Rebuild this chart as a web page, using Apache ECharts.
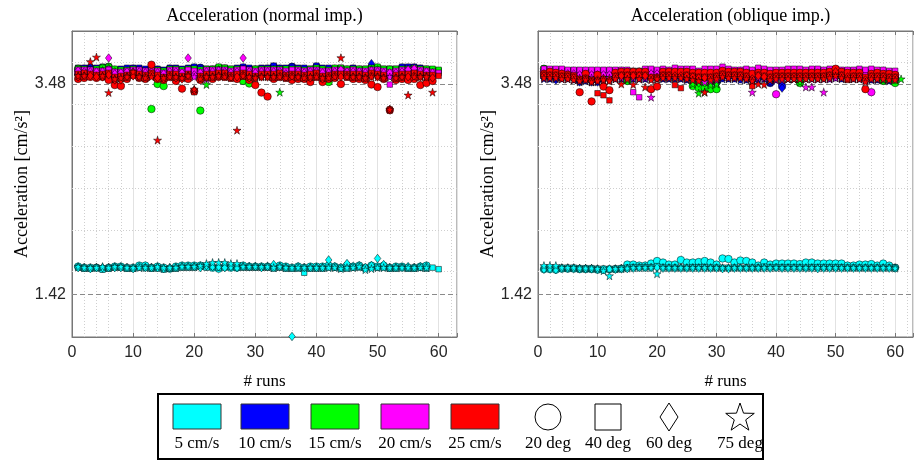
<!DOCTYPE html>
<html><head><meta charset="utf-8">
<script src="https://cdn.jsdelivr.net/npm/echarts@6/dist/echarts.min.js"></script>
<style>html,body{margin:0;padding:0;background:#fff}#c{width:916px;height:461px}</style>
</head><body><div id="c"></div><script>
// ---------- DATA (run index = position + 1) ----------
// Left panel: normal impact
const N5_20 = [1.69,1.68,1.68,1.68,1.67,1.68,1.69,1.69,1.68,1.68,1.70,1.70,1.68,1.69,1.68,1.67,1.69,1.70,1.70,1.70,1.70,1.69,1.68,1.67,1.69,1.68,1.68,1.70,1.69,1.69,1.69,1.69,1.69,1.70,1.69,1.68,1.69,1.68,1.69,1.69,1.69,1.70,1.69,1.68,1.70,1.69,1.70,1.68,1.70,1.69,1.70,1.68,1.69,1.69,1.68,1.68,1.69,1.70,null,null];
const N5_40 = [1.68,1.67,1.67,1.68,1.66,1.67,1.68,1.68,1.67,1.67,1.68,1.68,1.67,1.67,1.66,1.67,1.67,1.68,1.68,1.68,1.69,1.68,1.69,1.68,1.68,1.69,1.68,1.68,1.68,1.68,1.68,1.68,1.67,1.68,1.67,1.67,1.67,1.63,1.67,1.67,1.67,1.68,1.68,1.67,1.67,1.68,1.68,1.67,1.68,1.68,1.68,1.67,1.67,1.68,1.67,1.67,1.68,1.67,1.68,1.665];
const N5_60 = [1.68,1.68,1.67,1.68,1.68,1.68,1.68,1.68,1.68,1.67,1.69,1.68,1.68,1.68,1.67,1.68,1.68,1.69,1.69,1.69,1.68,1.70,1.69,1.69,1.68,1.69,1.68,1.69,1.69,1.69,1.68,1.69,1.71,1.69,1.68,1.005,1.69,1.68,1.68,1.68,1.68,1.755,1.69,1.68,1.72,1.69,1.70,1.68,1.70,1.77,1.71,1.68,1.68,1.68,1.69,1.68,1.69,1.69,null,null];
const N5_75 = [1.69,1.68,1.68,1.68,1.69,1.68,1.69,1.69,1.68,1.68,1.68,1.68,1.68,1.69,1.68,1.68,1.68,1.69,1.69,1.69,1.70,1.72,1.73,1.73,1.73,1.72,1.72,1.69,1.69,1.69,1.69,1.69,1.68,1.69,1.68,1.68,1.68,1.68,1.68,1.68,1.68,1.68,1.68,1.67,1.68,1.68,1.69,1.66,1.67,1.68,1.68,1.68,1.68,1.68,1.68,1.68,1.68,1.68,null,null];
const N10_20 = [3.62,3.63,3.64,3.62,3.61,3.62,3.58,3.60,3.62,3.63,3.62,3.60,3.62,3.62,3.59,3.63,3.62,3.61,3.62,3.64,3.64,3.60,3.62,3.62,3.63,3.61,3.62,3.64,3.62,3.62,3.62,3.63,3.65,3.63,3.61,3.65,3.62,3.62,3.61,3.65,3.62,3.61,3.63,3.62,3.62,3.63,3.62,3.61,3.64,3.62,3.61,3.62,3.61,3.64,3.64,3.64,3.63,3.62,3.61,null];
const N10_40 = [3.64,3.64,3.63,3.64,3.65,3.63,3.62,3.63,3.64,3.64,3.64,3.63,3.64,3.63,3.62,3.64,3.64,3.63,3.64,3.65,3.64,3.63,3.63,3.64,3.64,3.63,3.64,3.65,3.64,3.63,3.64,3.64,3.66,3.64,3.64,3.65,3.64,3.64,3.63,3.66,3.64,3.64,3.63,3.64,3.63,3.64,3.63,3.63,3.65,3.63,3.63,3.63,3.63,3.65,3.65,3.65,3.64,3.63,3.62,3.61];
const N10_60 = [3.60,3.61,3.59,3.59,3.60,3.61,3.56,3.58,3.60,3.61,3.60,3.59,3.59,3.57,3.57,3.61,3.59,3.59,3.60,3.61,3.61,3.58,3.60,3.61,3.61,3.59,3.60,3.62,3.60,3.59,3.60,3.61,3.62,3.60,3.59,3.61,3.60,3.60,3.59,3.62,3.60,3.59,3.61,3.60,3.59,3.60,3.60,3.59,3.68,3.60,3.59,3.60,3.59,3.61,3.62,3.62,3.60,3.60,3.59,null];
const N10_75 = [3.57,3.58,3.58,3.57,3.57,3.58,3.54,3.55,3.57,3.59,3.57,3.57,3.57,3.55,3.55,3.58,3.57,3.56,3.57,3.59,3.58,3.56,3.57,3.58,3.59,3.57,3.57,3.58,3.57,3.57,3.57,3.58,3.59,3.58,3.57,3.58,3.57,3.57,3.56,3.59,3.57,3.56,3.58,3.57,3.57,3.57,3.57,3.56,3.60,3.57,3.56,3.57,3.57,3.58,3.58,3.59,3.57,3.57,3.56,null];
const N15_20 = [3.63,3.60,3.59,3.61,3.64,3.65,3.62,3.60,3.59,3.61,3.58,3.59,3.235,3.48,3.46,3.60,3.60,3.59,3.61,3.60,3.22,3.60,3.60,3.64,3.62,3.60,3.60,3.51,3.485,3.62,3.61,3.60,3.60,3.60,3.59,3.60,3.60,3.59,3.61,3.62,3.60,3.50,3.62,3.62,3.60,3.60,3.60,3.60,3.62,3.64,3.60,3.59,3.60,3.61,3.61,3.62,3.60,3.61,3.60,null];
const N15_40 = [3.63,3.63,3.62,3.63,3.64,3.65,3.63,3.62,3.62,3.63,3.62,3.61,3.63,3.62,3.61,3.63,3.63,3.62,3.63,3.63,3.62,3.63,3.63,3.65,3.64,3.63,3.63,3.63,3.62,3.63,3.63,3.63,3.63,3.63,3.63,3.63,3.63,3.62,3.63,3.64,3.63,3.62,3.64,3.64,3.63,3.63,3.63,3.63,3.64,3.65,3.63,3.63,3.63,3.63,3.63,3.64,3.63,3.63,3.63,3.62];
const N15_60 = [3.59,3.60,3.58,3.59,3.61,3.63,3.60,3.58,3.58,3.59,3.57,3.57,3.58,3.58,3.56,3.59,3.59,3.57,3.59,3.58,3.58,3.58,3.59,3.62,3.60,3.58,3.59,3.59,3.57,3.59,3.59,3.59,3.59,3.59,3.58,3.59,3.59,3.58,3.59,3.60,3.58,3.57,3.60,3.60,3.59,3.59,3.59,3.58,3.62,3.62,3.58,3.58,3.58,3.59,3.59,3.60,3.59,3.59,3.58,null];
const N15_75 = [3.56,3.56,3.57,3.56,3.58,3.58,3.55,3.54,3.56,3.57,3.55,3.55,3.56,3.55,3.54,3.56,3.56,3.55,3.56,3.56,3.56,3.475,3.56,3.58,3.57,3.56,3.56,3.56,3.55,3.56,3.56,3.56,3.56,3.40,3.56,3.56,3.56,3.55,3.56,3.57,3.55,3.55,3.57,3.57,3.56,3.56,3.56,3.55,3.59,3.58,3.55,3.55,3.55,3.56,3.56,3.57,3.56,3.56,3.55,null];
const N20_20 = [3.60,3.61,3.60,3.60,3.60,3.62,3.58,3.58,3.60,3.61,3.60,3.59,3.60,3.60,3.58,3.60,3.60,3.58,3.61,3.58,3.58,3.60,3.60,3.61,3.61,3.59,3.60,3.61,3.60,3.59,3.60,3.60,3.60,3.61,3.59,3.60,3.60,3.59,3.60,3.61,3.59,3.59,3.60,3.61,3.60,3.60,3.60,3.59,3.61,3.61,3.59,3.59,3.59,3.60,3.60,3.62,3.60,3.60,3.59,null];
const N20_40 = [3.62,3.62,3.62,3.61,3.61,3.62,3.60,3.60,3.61,3.62,3.62,3.61,3.62,3.61,3.59,3.62,3.62,3.60,3.62,3.61,3.60,3.62,3.62,3.62,3.62,3.61,3.62,3.63,3.62,3.61,3.62,3.62,3.62,3.62,3.61,3.62,3.62,3.61,3.62,3.62,3.61,3.61,3.62,3.62,3.61,3.62,3.61,3.61,3.62,3.62,3.61,3.475,3.61,3.62,3.62,3.63,3.62,3.61,3.60,3.59];
const N20_60 = [3.61,3.60,3.60,3.60,3.60,3.735,3.58,3.59,3.60,3.60,3.60,3.59,3.60,3.59,3.58,3.60,3.60,3.59,3.735,3.57,3.59,3.60,3.60,3.61,3.60,3.59,3.60,3.735,3.60,3.59,3.60,3.60,3.60,3.60,3.58,3.56,3.60,3.59,3.60,3.60,3.59,3.59,3.60,3.62,3.60,3.60,3.60,3.59,3.61,3.60,3.59,3.59,3.59,3.60,3.62,3.63,3.60,3.60,3.59,null];
const N20_75 = [3.57,3.57,3.57,3.56,3.56,3.57,3.54,3.55,3.56,3.57,3.56,3.55,3.56,3.56,3.54,3.56,3.56,3.55,3.57,3.55,3.55,3.53,3.56,3.57,3.56,3.55,3.56,3.57,3.56,3.55,3.56,3.56,3.56,3.56,3.55,3.56,3.56,3.55,3.56,3.56,3.55,3.55,3.56,3.57,3.56,3.56,3.56,3.55,3.57,3.57,3.55,3.55,3.55,3.56,3.56,3.57,3.56,3.56,3.55,null];
const N25_20 = [3.53,3.54,3.55,3.54,3.55,3.52,3.47,3.46,3.53,3.57,3.54,3.53,3.67,3.53,3.52,3.55,3.51,3.435,3.53,3.41,3.52,3.55,3.53,3.55,3.55,3.54,3.53,3.56,3.52,3.47,3.396,3.357,3.53,3.55,3.54,3.52,3.53,3.53,3.50,3.55,3.50,3.53,3.54,3.48,3.55,3.53,3.53,3.52,3.475,3.45,3.53,3.223,3.52,3.53,3.52,3.53,3.47,3.49,3.51,null];
const N25_40 = [3.58,3.59,3.58,3.57,3.58,3.59,3.55,3.56,3.57,3.59,3.58,3.57,3.59,3.57,3.55,3.58,3.58,3.56,3.58,3.40,3.56,3.58,3.58,3.59,3.59,3.57,3.58,3.59,3.58,3.56,3.58,3.58,3.58,3.59,3.57,3.58,3.58,3.57,3.58,3.59,3.56,3.57,3.58,3.58,3.58,3.58,3.58,3.57,3.59,3.58,3.57,3.23,3.57,3.58,3.58,3.59,3.58,3.57,3.57,3.56];
const N25_60 = [3.55,3.56,3.56,3.55,3.55,3.57,3.52,3.52,3.55,3.56,3.55,3.55,3.57,3.54,3.53,3.56,3.54,3.53,3.56,3.42,3.54,3.55,3.55,3.56,3.56,3.55,3.55,3.57,3.54,3.54,3.55,3.55,3.55,3.56,3.55,3.56,3.55,3.55,3.54,3.56,3.53,3.55,3.56,3.55,3.56,3.55,3.55,3.54,3.56,3.55,3.54,3.23,3.54,3.55,3.55,3.56,3.55,3.55,3.54,null];
const N25_75 = [3.56,3.56,3.70,3.744,3.56,3.396,3.53,3.54,3.55,3.60,3.55,3.54,3.55,2.93,3.54,3.55,3.55,3.54,3.56,3.43,3.53,3.55,3.55,3.56,3.55,3.54,3.027,3.56,3.55,3.54,3.55,3.55,3.55,3.55,3.54,3.55,3.55,3.54,3.55,3.55,3.54,3.54,3.55,3.738,3.55,3.55,3.55,3.54,3.55,3.55,3.54,3.23,3.54,3.55,3.372,3.55,3.55,3.55,3.40,null];
// Right panel: oblique impact
const O5_20 = [1.665,1.665,1.66,1.67,1.67,1.67,1.665,1.665,1.665,1.66,1.66,1.665,1.665,1.67,1.71,1.71,1.70,1.70,1.72,1.745,1.73,1.71,1.71,1.755,1.73,1.73,1.735,1.745,1.73,1.71,1.77,1.765,1.73,1.75,1.745,1.73,1.70,1.73,1.71,1.72,1.72,1.72,1.72,1.715,1.73,1.73,1.72,1.72,1.72,1.72,1.72,1.70,1.70,1.71,1.71,1.715,1.70,1.72,1.70,1.68];
const O5_40 = [1.675,1.675,1.675,1.68,1.68,1.68,1.675,1.675,1.675,1.67,1.67,1.665,1.67,1.675,1.68,1.685,1.685,1.685,1.685,1.695,1.685,1.68,1.68,1.68,1.68,1.685,1.685,1.685,1.68,1.68,1.68,1.68,1.68,1.68,1.68,1.68,1.68,1.69,1.685,1.685,1.685,1.685,1.685,1.685,1.68,1.685,1.685,1.685,1.685,1.685,1.685,1.68,1.68,1.68,1.68,1.68,1.68,1.68,1.68,1.68];
const O5_60 = [1.665,1.67,1.66,1.675,1.675,1.675,1.67,1.67,1.67,1.665,1.665,1.665,1.665,1.67,1.67,1.675,1.68,1.68,1.68,1.68,1.675,1.675,1.675,1.675,1.675,1.675,1.675,1.675,1.675,1.675,1.67,1.67,1.675,1.675,1.675,1.675,1.675,1.675,1.675,1.68,1.675,1.675,1.675,1.675,1.675,1.675,1.67,1.675,1.675,1.675,1.675,1.675,1.675,1.675,1.675,1.675,1.675,1.675,1.675,1.675];
const O5_75 = [1.70,1.70,1.70,1.68,1.68,1.68,1.675,1.675,1.675,1.67,1.65,1.60,1.67,1.67,1.675,1.68,1.68,1.68,1.68,1.62,1.68,1.68,1.68,1.68,1.68,1.68,1.68,1.68,1.68,1.68,1.68,1.68,1.68,1.68,1.68,1.68,1.68,1.68,1.68,1.68,1.68,1.68,1.68,1.68,1.68,1.68,1.68,1.68,1.68,1.68,1.68,1.68,1.68,1.68,1.68,1.68,1.68,1.68,1.68,1.675];
const O10_20 = [3.60,3.59,3.60,3.59,3.58,3.57,3.51,3.57,3.52,3.55,3.57,3.58,3.59,3.58,3.58,3.59,3.58,3.58,3.58,3.58,3.58,3.58,3.58,3.58,3.57,3.56,3.54,3.55,3.53,3.50,3.59,3.58,3.58,3.57,3.57,3.55,3.58,3.58,3.49,3.57,3.46,3.58,3.58,3.58,3.58,3.58,3.58,3.58,3.58,3.59,3.58,3.58,3.58,3.57,3.56,3.57,3.57,3.56,3.55,3.54];
const O10_40 = [3.60,3.60,3.60,3.59,3.58,3.58,3.55,3.57,3.55,3.56,3.57,3.58,3.58,3.58,3.58,3.59,3.58,3.58,3.58,3.59,3.58,3.58,3.58,3.58,3.58,3.57,3.56,3.57,3.56,3.55,3.59,3.59,3.58,3.58,3.58,3.57,3.58,3.58,3.56,3.57,3.57,3.58,3.58,3.58,3.58,3.58,3.58,3.58,3.58,3.59,3.58,3.58,3.58,3.58,3.57,3.58,3.57,3.57,3.56,3.55];
const O10_60 = [3.55,3.54,3.52,3.54,3.54,3.53,3.50,3.52,3.50,3.50,3.52,3.53,3.54,3.54,3.54,3.54,3.54,3.54,3.54,3.54,3.54,3.54,3.54,3.54,3.53,3.52,3.51,3.51,3.50,3.50,3.54,3.54,3.54,3.53,3.53,3.51,3.53,3.54,3.50,3.53,3.44,3.54,3.54,3.54,3.54,3.54,3.54,3.54,3.54,3.55,3.54,3.54,3.54,3.54,3.53,3.53,3.53,3.53,3.52,3.51];
const O10_75 = [3.53,3.53,3.53,3.53,3.53,3.52,3.50,3.51,3.50,3.50,3.51,3.52,3.53,3.53,3.53,3.53,3.53,3.53,3.53,3.53,3.53,3.53,3.53,3.53,3.52,3.51,3.50,3.50,3.50,3.50,3.53,3.53,3.53,3.52,3.52,3.50,3.52,3.53,3.50,3.52,3.52,3.53,3.53,3.53,3.53,3.53,3.53,3.53,3.53,3.54,3.53,3.53,3.53,3.53,3.52,3.52,3.52,3.52,3.51,3.51];
const O15_20 = [3.63,3.60,3.59,3.59,3.59,3.59,3.58,3.58,3.58,3.59,3.59,3.59,3.59,3.58,3.51,3.59,3.59,3.59,3.59,3.59,3.59,3.59,3.59,3.59,3.58,3.46,3.44,3.445,3.43,3.43,3.59,3.59,3.59,3.59,3.59,3.58,3.59,3.59,3.58,3.58,3.58,3.58,3.57,3.49,3.58,3.59,3.59,3.59,3.59,3.59,3.59,3.59,3.59,3.59,3.58,3.58,3.58,3.51,3.58,3.49];
const O15_40 = [3.63,3.62,3.61,3.61,3.61,3.61,3.60,3.60,3.60,3.61,3.61,3.61,3.61,3.61,3.59,3.61,3.61,3.61,3.61,3.61,3.61,3.61,3.61,3.61,3.60,3.56,3.55,3.55,3.55,3.55,3.61,3.61,3.61,3.61,3.60,3.60,3.61,3.61,3.60,3.60,3.60,3.60,3.59,3.57,3.60,3.61,3.61,3.61,3.61,3.61,3.61,3.61,3.61,3.61,3.60,3.60,3.60,3.56,3.60,3.56];
const O15_60 = [3.59,3.58,3.57,3.57,3.57,3.57,3.56,3.56,3.56,3.57,3.57,3.57,3.57,3.56,3.54,3.57,3.57,3.57,3.57,3.57,3.57,3.57,3.57,3.57,3.56,3.50,3.49,3.49,3.50,3.51,3.57,3.57,3.57,3.57,3.57,3.56,3.57,3.57,3.56,3.56,3.56,3.56,3.55,3.52,3.56,3.57,3.57,3.57,3.57,3.57,3.57,3.57,3.57,3.57,3.56,3.56,3.56,3.53,3.56,3.52];
const O15_75 = [3.56,3.56,3.55,3.55,3.55,3.55,3.54,3.54,3.54,3.55,3.55,3.55,3.55,3.54,3.52,3.55,3.55,3.55,3.55,3.55,3.55,3.55,3.55,3.55,3.54,3.48,3.39,3.40,3.47,3.48,3.55,3.55,3.55,3.55,3.55,3.54,3.55,3.55,3.54,3.54,3.54,3.54,3.53,3.50,3.54,3.55,3.55,3.55,3.55,3.55,3.55,3.55,3.55,3.55,3.54,3.54,3.54,3.52,3.54,3.53,3.53];
const O20_20 = [3.60,3.60,3.60,3.60,3.60,3.60,3.59,3.59,3.59,3.59,3.59,3.59,3.59,3.59,3.59,3.60,3.60,3.60,3.60,3.60,3.60,3.60,3.60,3.60,3.59,3.59,3.58,3.57,3.58,3.58,3.60,3.60,3.60,3.60,3.59,3.58,3.59,3.59,3.58,3.38,3.58,3.59,3.59,3.59,3.59,3.59,3.59,3.59,3.59,3.59,3.59,3.58,3.58,3.58,3.57,3.40,3.58,3.58,3.57,3.57];
const O20_40 = [3.63,3.63,3.63,3.63,3.62,3.62,3.62,3.62,3.62,3.62,3.62,3.62,3.62,3.62,3.62,3.40,3.35,3.63,3.63,3.62,3.63,3.62,3.64,3.63,3.63,3.63,3.61,3.63,3.63,3.63,3.65,3.63,3.62,3.62,3.63,3.62,3.64,3.63,3.62,3.62,3.62,3.63,3.63,3.63,3.62,3.63,3.63,3.62,3.63,3.63,3.62,3.62,3.62,3.63,3.62,3.63,3.62,3.62,3.61,3.61];
const O20_60 = [3.58,3.58,3.58,3.58,3.58,3.58,3.57,3.57,3.57,3.57,3.57,3.57,3.57,3.57,3.57,3.58,3.58,3.58,3.58,3.58,3.58,3.58,3.58,3.58,3.57,3.56,3.54,3.53,3.54,3.54,3.58,3.58,3.58,3.58,3.57,3.53,3.57,3.57,3.56,3.56,3.56,3.57,3.57,3.57,3.57,3.57,3.57,3.57,3.57,3.57,3.57,3.57,3.57,3.56,3.53,3.56,3.56,3.56,3.56,3.55];
const O20_75 = [3.55,3.55,3.55,3.55,3.55,3.55,3.54,3.54,3.54,3.54,3.54,3.54,3.54,3.54,3.54,3.54,3.54,3.54,3.35,3.55,3.55,3.55,3.55,3.55,3.54,3.53,3.51,3.50,3.51,3.52,3.55,3.55,3.55,3.55,3.54,3.40,3.54,3.54,3.52,3.52,3.52,3.53,3.53,3.53,3.45,3.45,3.53,3.40,3.53,3.54,3.54,3.54,3.54,3.53,3.52,3.53,3.53,3.53,3.53,3.53];
const O25_20 = [3.58,3.60,3.59,3.58,3.57,3.56,3.40,3.58,3.31,3.57,3.455,3.42,3.59,3.60,3.60,3.60,3.60,3.60,3.43,3.455,3.60,3.60,3.60,3.60,3.60,3.59,3.59,3.59,3.59,3.59,3.61,3.60,3.60,3.60,3.59,3.58,3.59,3.59,3.58,3.59,3.59,3.59,3.59,3.59,3.59,3.59,3.59,3.59,3.60,3.63,3.60,3.59,3.59,3.59,3.43,3.58,3.59,3.58,3.58,3.57];
const O25_40 = [3.57,3.57,3.57,3.56,3.56,3.55,3.53,3.54,3.52,3.39,3.37,3.32,3.56,3.57,3.57,3.57,3.57,3.57,3.55,3.55,3.57,3.57,3.47,3.44,3.57,3.56,3.55,3.55,3.55,3.56,3.58,3.57,3.57,3.57,3.56,3.46,3.57,3.56,3.55,3.56,3.56,3.56,3.56,3.56,3.56,3.56,3.56,3.56,3.57,3.58,3.57,3.52,3.56,3.56,3.55,3.56,3.56,3.56,3.55,3.55];
const O25_60 = [3.56,3.56,3.56,3.55,3.55,3.54,3.52,3.53,3.51,3.52,3.53,3.52,3.55,3.56,3.56,3.56,3.56,3.56,3.54,3.54,3.56,3.56,3.56,3.56,3.56,3.55,3.54,3.54,3.54,3.55,3.57,3.56,3.56,3.56,3.55,3.53,3.56,3.55,3.54,3.55,3.55,3.55,3.55,3.55,3.55,3.55,3.55,3.55,3.56,3.60,3.56,3.55,3.55,3.55,3.52,3.55,3.55,3.55,3.54,3.54];
const O25_75 = [3.54,3.54,3.54,3.53,3.53,3.52,3.51,3.52,3.50,3.51,3.52,3.51,3.53,3.48,3.53,3.475,3.53,3.45,3.52,3.53,3.54,3.54,3.54,3.54,3.53,3.52,3.51,3.40,3.52,3.53,3.55,3.54,3.54,3.54,3.53,3.51,3.48,3.475,3.52,3.53,3.53,3.53,3.53,3.53,3.53,3.53,3.53,3.53,3.54,3.56,3.54,3.53,3.53,3.53,3.50,3.53,3.53,3.53,3.52,3.52];

const panelTitles = ['Acceleration (normal imp.)', 'Acceleration (oblique imp.)'];
const speedLabels = ['5 cm/s','10 cm/s','15 cm/s','20 cm/s','25 cm/s'];
const angleLabels = ['20 deg','40 deg','60 deg','75 deg'];
const yTickValues = [1.42, 3.48];
const xTickLabels = [0,10,20,30,40,50,60];
const yMinorGrid = [1.64,2.05,2.46,2.87,3.28,3.69];
const yLabel = 'Acceleration [cm/s\u00b2]';
const xLabel = '# runs';

const panelData = [
  [[N5_20,N5_40,N5_60,N5_75],[N10_20,N10_40,N10_60,N10_75],[N15_20,N15_40,N15_60,N15_75],[N20_20,N20_40,N20_60,N20_75],[N25_20,N25_40,N25_60,N25_75]],
  [[O5_20,O5_40,O5_60,O5_75],[O10_20,O10_40,O10_60,O10_75],[O15_20,O15_40,O15_60,O15_75],[O20_20,O20_40,O20_60,O20_75],[O25_20,O25_40,O25_60,O25_75]]
];

// ---------- STYLE ----------
const colors = ['#00ffff','#0000ff','#00ff00','#ff00ff','#ff0000'];
const STAR = 'path://M0,-10L2.245,-3.09L9.51,-3.09L3.63,1.18L5.88,8.09L0,3.82L-5.88,8.09L-3.63,1.18L-9.51,-3.09L-2.245,-3.09Z';
const symbols = ['circle','rect','diamond',STAR];
const symSizes = [7.5,5.5,[6.5,8.5],8];
const gridLefts = [72, 538];
const axisCol = '#777';
const tickFont = 'Liberation Sans, Arimo, Helvetica, Arial, sans-serif';
const serif = 'Liberation Serif, Tinos, Times New Roman, serif';

const grids = [], xAxes = [], yAxes = [], series = [], graphics = [];

gridLefts.forEach((gl, p) => {
  grids.push({left: gl, top: 31, width: 385, height: 306, show: true, borderColor: axisCol, borderWidth: 1, containLabel: false});
  xAxes.push({
    type: 'value', gridIndex: p, min: 0, max: 63, interval: 10, position: 'bottom',
    axisLine: {show: true, onZero: false, lineStyle: {color: axisCol}},
    axisTick: {show: true, inside: true, length: 4, lineStyle: {color: axisCol}},
    axisLabel: {color: '#262626', fontSize: 16, fontFamily: tickFont, margin: 8,
      formatter: v => xTickLabels.indexOf(v) >= 0 ? String(v) : ''},
    splitLine: {show: true, lineStyle: {color: '#e2e2e2', width: 1}},
    name: xLabel, nameLocation: 'middle', nameGap: 36,
    nameTextStyle: {fontFamily: serif, fontSize: 17, color: '#000'}
  });
  xAxes.push({
    type: 'value', gridIndex: p, min: 0, max: 63, interval: 10, position: 'top',
    axisLine: {show: true, onZero: false, lineStyle: {color: axisCol}},
    axisTick: {show: true, inside: true, length: 4, lineStyle: {color: axisCol}},
    axisLabel: {show: false}, splitLine: {show: false}
  });
  yAxes.push({
    type: 'value', gridIndex: p, min: 1, max: 4,
    axisLine: {show: true, onZero: false, lineStyle: {color: axisCol}},
    axisTick: {show: true, inside: true, length: 4, lineStyle: {color: axisCol}, customValues: yTickValues},
    axisLabel: {color: '#262626', fontSize: 16, fontFamily: tickFont, margin: 6, customValues: yTickValues,
      formatter: v => v.toFixed(2)},
    splitLine: {show: false},
    name: yLabel, nameLocation: 'middle', nameGap: 41,
    nameTextStyle: {fontFamily: serif, fontSize: 18, color: '#000'}
  });

  const ml = [];
  for (let x = 2; x <= 62; x += 2) {
    if (x % 10 !== 0) ml.push({xAxis: x, lineStyle: {color: '#cfcfcf', type: [1,2], width: 1}});
  }
  yMinorGrid.forEach(y => ml.push({yAxis: y, lineStyle: {color: '#cfcfcf', type: [1,2], width: 1}}));
  yTickValues.forEach(y => ml.push({yAxis: y, lineStyle: {color: '#8a8a8a', type: [5,3], width: 1.2}}));
  series.push({
    type: 'scatter', xAxisIndex: p*2, yAxisIndex: p, data: [], silent: true, z: 1,
    markLine: {silent: true, symbol: 'none', z: 1, animation: false, label: {show: false}, data: ml}
  });

  panelData[p].forEach((bySpeed, s) => {
    bySpeed.forEach((arr, a) => {
      const d = [];
      arr.forEach((v, i) => { if (v !== null) d.push([i + 1, v]); });
      series.push({
        type: 'scatter', name: speedLabels[s] + ' ' + angleLabels[a],
        xAxisIndex: p*2, yAxisIndex: p, data: d,
        symbol: symbols[a], symbolSize: symSizes[a], z: 3,
        itemStyle: {color: colors[s], borderColor: '#000', borderWidth: 0.5, opacity: 1},
        emphasis: {disabled: true}
      });
    });
  });

  graphics.push({type: 'text', x: gl + 192.5, y: 16,
    style: {text: panelTitles[p], font: '18px ' + serif, fill: '#000', align: 'center', verticalAlign: 'middle'}});
});

// legend box
const LX = 158, LY = 394;
graphics.push({type: 'rect', shape: {x: LX, y: LY, width: 605, height: 65},
  style: {fill: '#fff', stroke: '#000', lineWidth: 2}});
const colCenters = [197, 265, 335, 405, 475];
colCenters.forEach((cx, i) => {
  graphics.push({type: 'rect', shape: {x: cx - 24, y: 404, width: 48, height: 25},
    style: {fill: colors[i], stroke: '#333', lineWidth: 1}});
  graphics.push({type: 'text', x: cx, y: 444,
    style: {text: speedLabels[i], font: '17px ' + serif, fill: '#000', align: 'center', verticalAlign: 'middle'}});
});
const shapeCenters = [548, 608, 669, 740];
graphics.push({type: 'circle', shape: {cx: shapeCenters[0], cy: 417, r: 13}, style: {fill: '#fff', stroke: '#000', lineWidth: 1}});
graphics.push({type: 'rect', shape: {x: shapeCenters[1] - 13, y: 404, width: 26, height: 26}, style: {fill: '#fff', stroke: '#000', lineWidth: 1}});
graphics.push({type: 'polygon', shape: {points: [[shapeCenters[2], 403], [shapeCenters[2] + 9, 417], [shapeCenters[2], 431], [shapeCenters[2] - 9, 417]]}, style: {fill: '#fff', stroke: '#000', lineWidth: 1}});
const starPts = [];
for (let k = 0; k < 10; k++) {
  const r = k % 2 === 0 ? 15 : 6;
  const ang = -Math.PI / 2 + k * Math.PI / 5;
  starPts.push([shapeCenters[3] + r * Math.cos(ang), 418 + r * Math.sin(ang)]);
}
graphics.push({type: 'polygon', shape: {points: starPts}, style: {fill: '#fff', stroke: '#000', lineWidth: 1}});
shapeCenters.forEach((cx, i) => {
  graphics.push({type: 'text', x: cx, y: 444,
    style: {text: angleLabels[i], font: '17px ' + serif, fill: '#000', align: 'center', verticalAlign: 'middle'}});
});

const chart = echarts.init(document.getElementById('c'), null, {renderer: 'canvas'});
chart.setOption({
  animation: false,
  backgroundColor: '#fff',
  grid: grids, xAxis: xAxes, yAxis: yAxes, series: series,
  graphic: {elements: graphics}
});
</script></body></html>
